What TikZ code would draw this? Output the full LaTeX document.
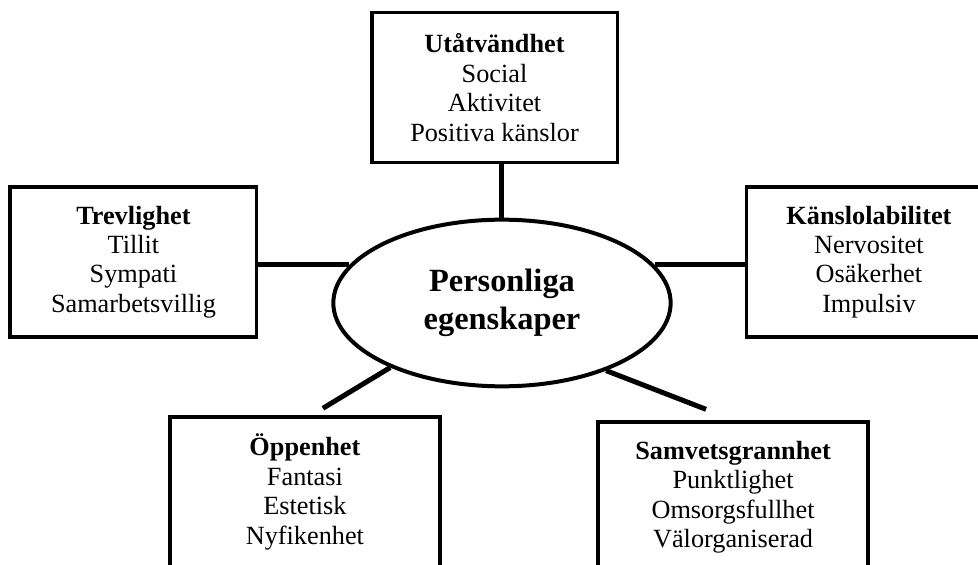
\documentclass[tikz,border=0pt]{standalone}
\usepackage{fontspec}
\setmainfont{Liberation Serif}
\usepackage{tikz}
\usetikzlibrary{shapes,positioning}

\begin{document}
\begin{tikzpicture}[x=0.75pt, y=0.75pt, node distance=4cm, auto]
    % Define styles
    \tikzstyle{trait} = [rectangle, minimum width=184pt, minimum height=112.5pt, text centered, align=center, draw=black, line width=2.5pt, font=\fontsize{19.7}{22.1}\selectfont]
    \tikzstyle{traitwide} = [trait, minimum width=202.5pt]
    \tikzstyle{core} = [ellipse, minimum width=253pt, minimum height=125pt, inner sep=0pt, text centered, align=center, draw=black, line width=3pt, font=\fontsize{24.3}{28.5}\selectfont\bfseries]
    \tikzstyle{link} = [line width=3.75pt]

    \clip (-502,-261) rectangle (476,303);

    % Nodes
    \node[core] (pers) {Personliga\\egenskaper};
    \node[trait, above of=pers, xshift=-5.6pt, yshift=47.8pt] (utat) {\textbf{Utåtvändhet}\\Social\\Aktivitet\\Positiva känslor};
    \node[trait, left of=pers, xshift=-162.6pt, yshift=30.8pt, minimum width=185pt] (trev) {\textbf{Trevlighet}\\Tillit\\Sympati\\Samarbetsvillig};
    \node[trait, right of=pers, xshift=161.4pt, yshift=30.8pt] (kansl) {\textbf{Känslolabilitet}\\Nervositet\\Osäkerhet\\Impulsiv};
    \node[traitwide, below of=pers, xshift=-147.8pt, yshift=-27.9pt] (oeppen) {\textbf{Öppenhet}\\Fantasi\\Estetisk\\Nyfikenhet};
    \node[traitwide, below of=pers, xshift=173.3pt, yshift=-31.7pt] (samv) {\textbf{Samvetsgrannhet}\\Punktlighet\\Omsorgsfullhet\\Välorganiserad};

    % Connections
    \draw[link] (utat.south -| pers.north) -- (pers.north);
    \draw[link] (pers.166 -| trev.east) -- (pers.166);
    \draw[link] (pers.14) -- (pers.14 -| kansl.west);
    \draw[link] (pers.210) -- ([shift={(18,7)}]oeppen.north);
    \draw[link] (pers.-33) -- ([shift={(-27,11)}]samv.north);
\end{tikzpicture}
\end{document}
